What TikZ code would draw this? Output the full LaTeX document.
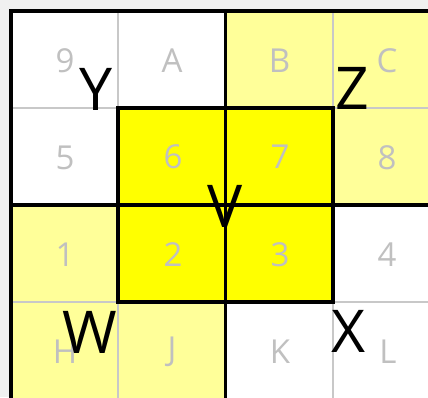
\documentclass[tikz,border=0pt]{standalone}
\usepackage{fontspec}
\setmainfont{Open Sans}
\definecolor{bgc}{RGB}{240,240,240}
\definecolor{lyel}{RGB}{255,255,153}
\definecolor{byel}{RGB}{255,255,0}
\definecolor{gtxt}{RGB}{192,192,192}
\definecolor{gline}{RGB}{200,200,200}
\tikzset{
  cell/.style={font=\fontsize{33}{33}\selectfont, text=gtxt, inner sep=0pt},
  big/.style={font=\fontsize{59}{59}\selectfont, text=black, inner sep=0pt},
  thin/.style={draw=gline, line width=1.3pt},
  thick/.style={draw=black, line width=3.6pt},
}
\begin{document}
\begin{tikzpicture}[x=1pt,y=-1pt]
\useasboundingbox (0,0) rectangle (428,397);
\begin{scope}
\clip (0,0) rectangle (428,397);
\fill[bgc] (0,0) rectangle (428,397);
% cell fills
\fill[white] (11,11) rectangle (440,399);
\fill[lyel] (225.5,11) rectangle (440,108);
\fill[lyel] (333,108) rectangle (440,205);
\fill[lyel] (11,205) rectangle (118,302);
\fill[lyel] (11,302) rectangle (225.5,399);
\fill[byel] (118,108) rectangle (333,302);
% thin grid lines
\draw[thin] (118,11) -- (118,399);
\draw[thin] (333,11) -- (333,399);
\draw[thin] (11,108) -- (440,108);
\draw[thin] (11,302) -- (440,302);
% thick lines
\draw[thick] (11,399) -- (11,11) -- (440,11);
\draw[thick] (225.5,11) -- (225.5,399);
\draw[thick] (11,205) -- (440,205);
\draw[thick] (118,108) rectangle (333,302);
\end{scope}
% cell labels
\node[cell] (c9) at (65,61) {9};
\node[cell] (cA) at (172,61) {A};
\node[cell] (cB) at (279.5,61) {B};
\node[cell] (cC) at (387,61) {C};
\node[cell] (c5) at (65,158) {5};
\node[cell] (c6) at (173,157) {6};
\node[cell] (c7) at (280,157) {7};
\node[cell] (c8) at (387,158) {8};
\node[cell] (c1) at (65,255) {1};
\node[cell] (c2) at (173,255) {2};
\node[cell] (c3) at (280,255) {3};
\node[cell] (c4) at (387,255) {4};
\node[cell] (cH) at (65,352) {H};
\node[cell] (cJ) at (172,352) {J};
\node[cell] (cK) at (280,352) {K};
\node[cell] (cL) at (388,352) {L};
% big letters
\node[big] (Y) at (96,89.5) {Y};
\node[big] (Z) at (352.5,88.5) {Z};
\node[big] (W) at (89.5,332) {W};
\node[big] (X) at (348.5,331.5) {X};
\node[big] (V) at (225,206) {V};
\end{tikzpicture}
\end{document}
